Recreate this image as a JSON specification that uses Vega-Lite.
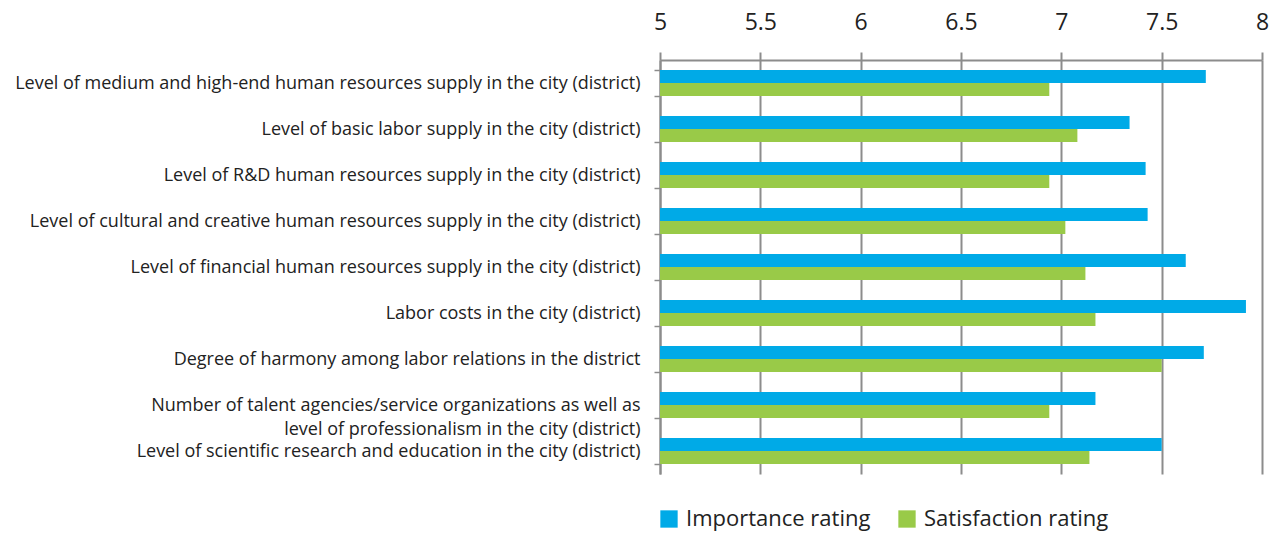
{
  "$schema": "https://vega.github.io/schema/vega-lite/v6.json",
  "autosize": {"type": "none"},
  "padding": {"left": 660, "top": 60, "right": 21, "bottom": 60},
  "width": 602,
  "height": 414,
  "background": "white",
  "config": {"view": {"stroke": null}, "font": "Open Sans"},
  "data": {
    "values": [
      {"category": "Level of medium and high-end human resources supply in the city (district)", "series": "Importance rating", "value": 7.72},
      {"category": "Level of medium and high-end human resources supply in the city (district)", "series": "Satisfaction rating", "value": 6.94},
      {"category": "Level of basic labor supply in the city (district)", "series": "Importance rating", "value": 7.34},
      {"category": "Level of basic labor supply in the city (district)", "series": "Satisfaction rating", "value": 7.08},
      {"category": "Level of R&D human resources supply in the city (district)", "series": "Importance rating", "value": 7.42},
      {"category": "Level of R&D human resources supply in the city (district)", "series": "Satisfaction rating", "value": 6.94},
      {"category": "Level of cultural and creative human resources supply in the city (district)", "series": "Importance rating", "value": 7.43},
      {"category": "Level of cultural and creative human resources supply in the city (district)", "series": "Satisfaction rating", "value": 7.02},
      {"category": "Level of financial human resources supply in the city (district)", "series": "Importance rating", "value": 7.62},
      {"category": "Level of financial human resources supply in the city (district)", "series": "Satisfaction rating", "value": 7.12},
      {"category": "Labor costs in the city (district)", "series": "Importance rating", "value": 7.92},
      {"category": "Labor costs in the city (district)", "series": "Satisfaction rating", "value": 7.17},
      {"category": "Degree of harmony among labor relations in the district", "series": "Importance rating", "value": 7.71},
      {"category": "Degree of harmony among labor relations in the district", "series": "Satisfaction rating", "value": 7.5},
      {"category": "Number of talent agencies/service organizations as well as |level of professionalism in the city (district)", "series": "Importance rating", "value": 7.17},
      {"category": "Number of talent agencies/service organizations as well as |level of professionalism in the city (district)", "series": "Satisfaction rating", "value": 6.94},
      {"category": "Level of scientific research and education in the city (district)", "series": "Importance rating", "value": 7.5},
      {"category": "Level of scientific research and education in the city (district)", "series": "Satisfaction rating", "value": 7.14}
    ]
  },
  "mark": {"type": "bar"},
  "encoding": {
    "y": {
      "field": "category",
      "type": "nominal",
      "sort": null,
      "scale": {"paddingInner": 0.43, "paddingOuter": 0.215},
      "axis": {
        "title": null,
        "orient": "left",
        "labelExpr": "split(datum.label, '|')",
        "labelFontSize": 18,
        "labelColor": "#222222",
        "labelPadding": 14,
        "labelLimit": 700,
        "labelLineHeight": 24,
        "tickBand": "extent",
        "tickSize": 6,
        "tickColor": "#8c8c8c",
        "tickWidth": 1.5,
        "domainColor": "#8c8c8c",
        "domainWidth": 2,
        "grid": false
      }
    },
    "yOffset": {
      "field": "series",
      "type": "nominal",
      "scale": {"domain": ["Importance rating", "Satisfaction rating"], "paddingInner": 0, "paddingOuter": 0}
    },
    "x": {
      "field": "value",
      "type": "quantitative",
      "scale": {"domain": [5, 8], "zero": false, "nice": false},
      "axis": {
        "title": null,
        "orient": "top",
        "values": [5, 5.5, 6, 6.5, 7, 7.5, 8],
        "format": "~g",
        "labelFontSize": 23,
        "labelColor": "#222222",
        "labelPadding": 18,
        "tickSize": 8,
        "tickColor": "#8c8c8c",
        "tickWidth": 2,
        "grid": true,
        "gridColor": "#8c8c8c",
        "gridWidth": 2,
        "domainColor": "#8c8c8c",
        "domainWidth": 2,
        "labelFlush": false
      }
    },
    "x2": {"datum": 5},
    "color": {
      "field": "series",
      "type": "nominal",
      "scale": {"domain": ["Importance rating", "Satisfaction rating"], "range": ["#00AAE7", "#99CA48"]},
      "legend": {
        "title": null,
        "orient": "none",
        "direction": "horizontal",
        "legendX": -2,
        "legendY": 448,
        "symbolType": "square",
        "symbolSize": 300,
        "symbolStrokeWidth": 0,
        "labelFontSize": 22,
        "labelLimit": 400,
        "labelColor": "#222222",
        "labelOffset": 6,
        "columnPadding": 25,
        "symbolOpacity": 1
      }
    }
  }
}
